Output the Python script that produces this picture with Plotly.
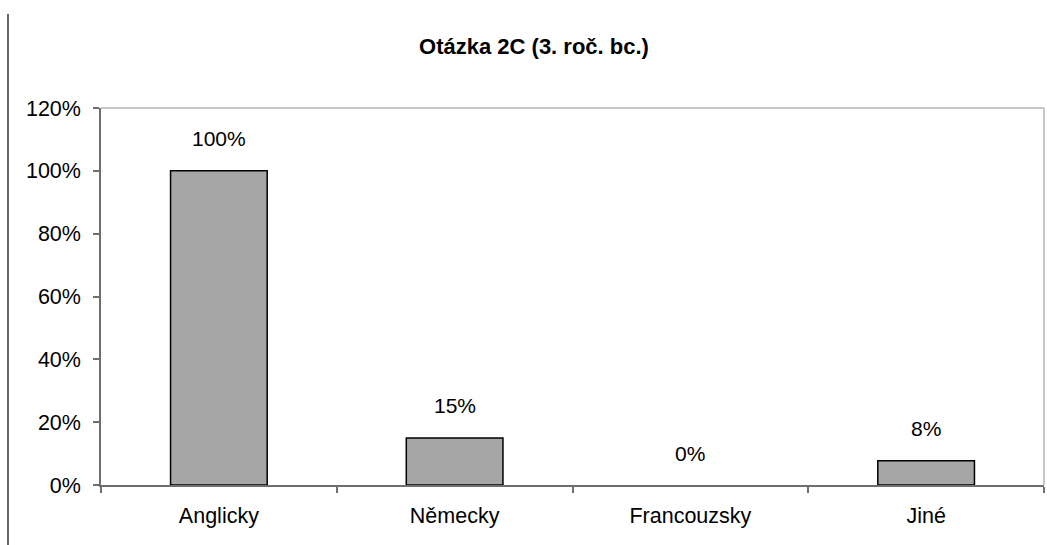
import plotly.graph_objects as go

categories = ["Anglicky", "Německy", "Francouzsky", "Jiné"]
values = [1.00, 0.15, 0.00, 0.077]
labels = ["100%", "15%", "0%", "8%"]
title = "<b>Otázka 2C (3. roč. bc.)</b>"

W, H = 1047, 545
ml, mr, mt, mb = 101, 3, 108, 60
pw = W - ml - mr
ph = H - mt - mb
FONT = "Liberation Sans, Arial"

fig = go.Figure()
fig.add_trace(go.Bar(
    x=categories, y=values, width=0.41,
    marker=dict(color="#a6a6a6",
                line=dict(color="#000000", width=[1.5 if v > 0 else 0 for v in values])),
    hoverinfo="skip",
))

for c, v, t in zip(categories, values, labels):
    fig.add_annotation(x=c, y=v, text=t, showarrow=False, yshift=32,
                       font=dict(family=FONT, size=21, color="#000"))

fig.update_layout(
    width=W, height=H,
    margin=dict(l=ml, r=mr, t=mt, b=mb),
    paper_bgcolor="white", plot_bgcolor="white",
    showlegend=False,
    title=dict(text=title, x=534 / W, xanchor="center", y=1 - 46 / H, yanchor="middle",
               font=dict(family=FONT, size=22, color="#000")),
    font=dict(family=FONT, size=21.5, color="#000"),
)
fig.update_yaxes(range=[0, 1.2], dtick=0.2, tickformat=".0%", showgrid=False,
                 showline=True, linecolor="#6e6e6e", linewidth=1.5,
                 ticks="outside", ticklen=6, tickcolor="#6e6e6e", tickwidth=1.5,
                 ticklabelstandoff=8, zeroline=False, fixedrange=True)
fig.update_xaxes(showgrid=False, showline=True, linecolor="#6e6e6e", linewidth=1.5,
                 ticks="outside", tickson="boundaries", ticklen=6, tickcolor="#6e6e6e",
                 tickwidth=1.5, ticklabelstandoff=10, fixedrange=True)

# plot-area top and right border
fig.add_shape(type="line", xref="paper", yref="paper", x0=0, x1=1, y0=1, y1=1,
              line=dict(color="#b4b4b4", width=1.5))
fig.add_shape(type="line", xref="paper", yref="paper", x0=1, x1=1, y0=0, y1=1,
              line=dict(color="#b4b4b4", width=1.5))
# left outer frame line
fig.add_shape(type="line", xref="paper", yref="paper",
              x0=(8 - ml) / pw, x1=(8 - ml) / pw,
              y0=-(mb + 10) / ph, y1=1 + (mt - 14) / ph,
              line=dict(color="#000000", width=1.2))

fig.write_html("out.html", config={"displayModeBar": False},
               post_script="document.body.style.margin='0';")
